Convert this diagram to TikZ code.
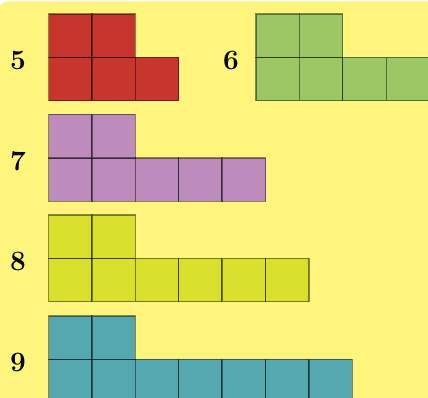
\documentclass[tikz,border=0pt]{standalone}
\definecolor{bgyellow}{HTML}{FFF57C}
\definecolor{cred}{HTML}{C7362C}
\definecolor{cgreen}{HTML}{9CC765}
\definecolor{cpurple}{HTML}{BE8BBD}
\definecolor{clime}{HTML}{D8E02C}
\definecolor{cteal}{HTML}{55A8B0}
\begin{document}
\begin{tikzpicture}[x=0.75pt,y=-0.75pt,
  cell/.style={fill=#1, draw=black, draw opacity=0.45, line width=1pt, minimum size=32.55pt, inner sep=0pt, outer sep=0pt, anchor=north west},
  lbl/.style={font=\fontsize{21}{25}\selectfont\bfseries, inner sep=0pt}]
\useasboundingbox (0,0) rectangle (428,398);
\fill[white] (0,0) rectangle (428,398);
\fill[bgyellow, rounded corners=7] (-1,1.5) rectangle (470,440);
% shapes: name/x0/top/bottom-count/colour
\foreach \nm/\xo/\yo/\n/\col in {a/48.5/14/3/cred, b/256/14/4/cgreen, c/48.5/114.5/5/cpurple, d/48.5/215/6/clime, e/48.5/316/7/cteal}{
  \foreach \i in {1,...,\n}{
    \node[cell=\col] (\nm-b\i) at ({\xo+43.4*(\i-1)},{\yo+43.4}) {};
  }
  \foreach \i in {1,2}{
    \node[cell=\col] (\nm-t\i) at ({\xo+43.4*(\i-1)},\yo) {};
  }
}
\node[lbl] (l5) at (18,60) {5};
\node[lbl] (l6) at (231,60) {6};
\node[lbl] (l7) at (18,161) {7};
\node[lbl] (l8) at (18,261.5) {8};
\node[lbl] (l9) at (18,362) {9};
\end{tikzpicture}
\end{document}
